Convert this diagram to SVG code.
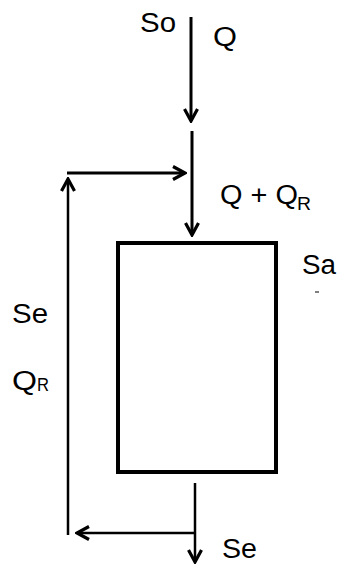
<svg xmlns="http://www.w3.org/2000/svg" width="338" height="564" viewBox="0 0 338 564">
  <style>
    .t { font-family: "Liberation Sans", Arial, sans-serif; font-size: 27px; fill: #000; }
    .sub { font-family: "Liberation Sans", Arial, sans-serif; font-size: 18px; fill: #000; }
    .ln { stroke: #000; stroke-width: 3; fill: none; }
    .thin { stroke: #000; stroke-width: 2.5; fill: none; }
  </style>
  <defs>
    <marker id="ah" viewBox="0 0 16 16" refX="14" refY="8" markerWidth="16" markerHeight="16" markerUnits="userSpaceOnUse" orient="auto">
      <path d="M2,1.5 L14,8 L2,14.5" fill="none" stroke="#000" stroke-width="3.2" stroke-linejoin="miter"/>
    </marker>
  </defs>
  <rect width="338" height="564" fill="#fff"/>
  <g id="reactor">
    <rect x="118" y="243" width="158" height="229" fill="none" stroke="#000" stroke-width="4"/>
  </g>
  <g id="connectors">
    <line class="ln" x1="191" y1="17" x2="191" y2="121" marker-end="url(#ah)"/>
    <line class="ln" x1="192" y1="131" x2="192" y2="235" marker-end="url(#ah)"/>
    <line class="ln" x1="67" y1="173" x2="185" y2="173" marker-end="url(#ah)"/>
    <line class="thin" x1="68" y1="535" x2="68" y2="179" marker-end="url(#ah)"/>
    <line class="thin" x1="195" y1="483" x2="195" y2="562" marker-end="url(#ah)"/>
    <line class="thin" x1="195" y1="533" x2="77" y2="533" marker-end="url(#ah)"/>
  </g>
  <g id="labels">
    <text class="t" x="140" y="32" textLength="36" lengthAdjust="spacingAndGlyphs">So</text>
    <text class="t" x="213" y="46" textLength="24" lengthAdjust="spacingAndGlyphs">Q</text>
    <text class="t" x="220" y="204" textLength="78" lengthAdjust="spacingAndGlyphs">Q + Q</text>
    <text class="sub" x="297" y="210" textLength="14" lengthAdjust="spacingAndGlyphs">R</text>
    <text class="t" x="302" y="274" textLength="34" lengthAdjust="spacingAndGlyphs">Sa</text>
    <line x1="315" y1="292" x2="319" y2="292" stroke="#000" stroke-width="1"/>
    <text class="t" x="12" y="323" textLength="36" lengthAdjust="spacingAndGlyphs">Se</text>
    <text class="t" x="12" y="390" textLength="25" lengthAdjust="spacingAndGlyphs">Q</text>
    <text class="sub" x="37" y="391" textLength="12" lengthAdjust="spacingAndGlyphs">R</text>
    <text class="t" x="222" y="558" textLength="35" lengthAdjust="spacingAndGlyphs">Se</text>
  </g>
</svg>
